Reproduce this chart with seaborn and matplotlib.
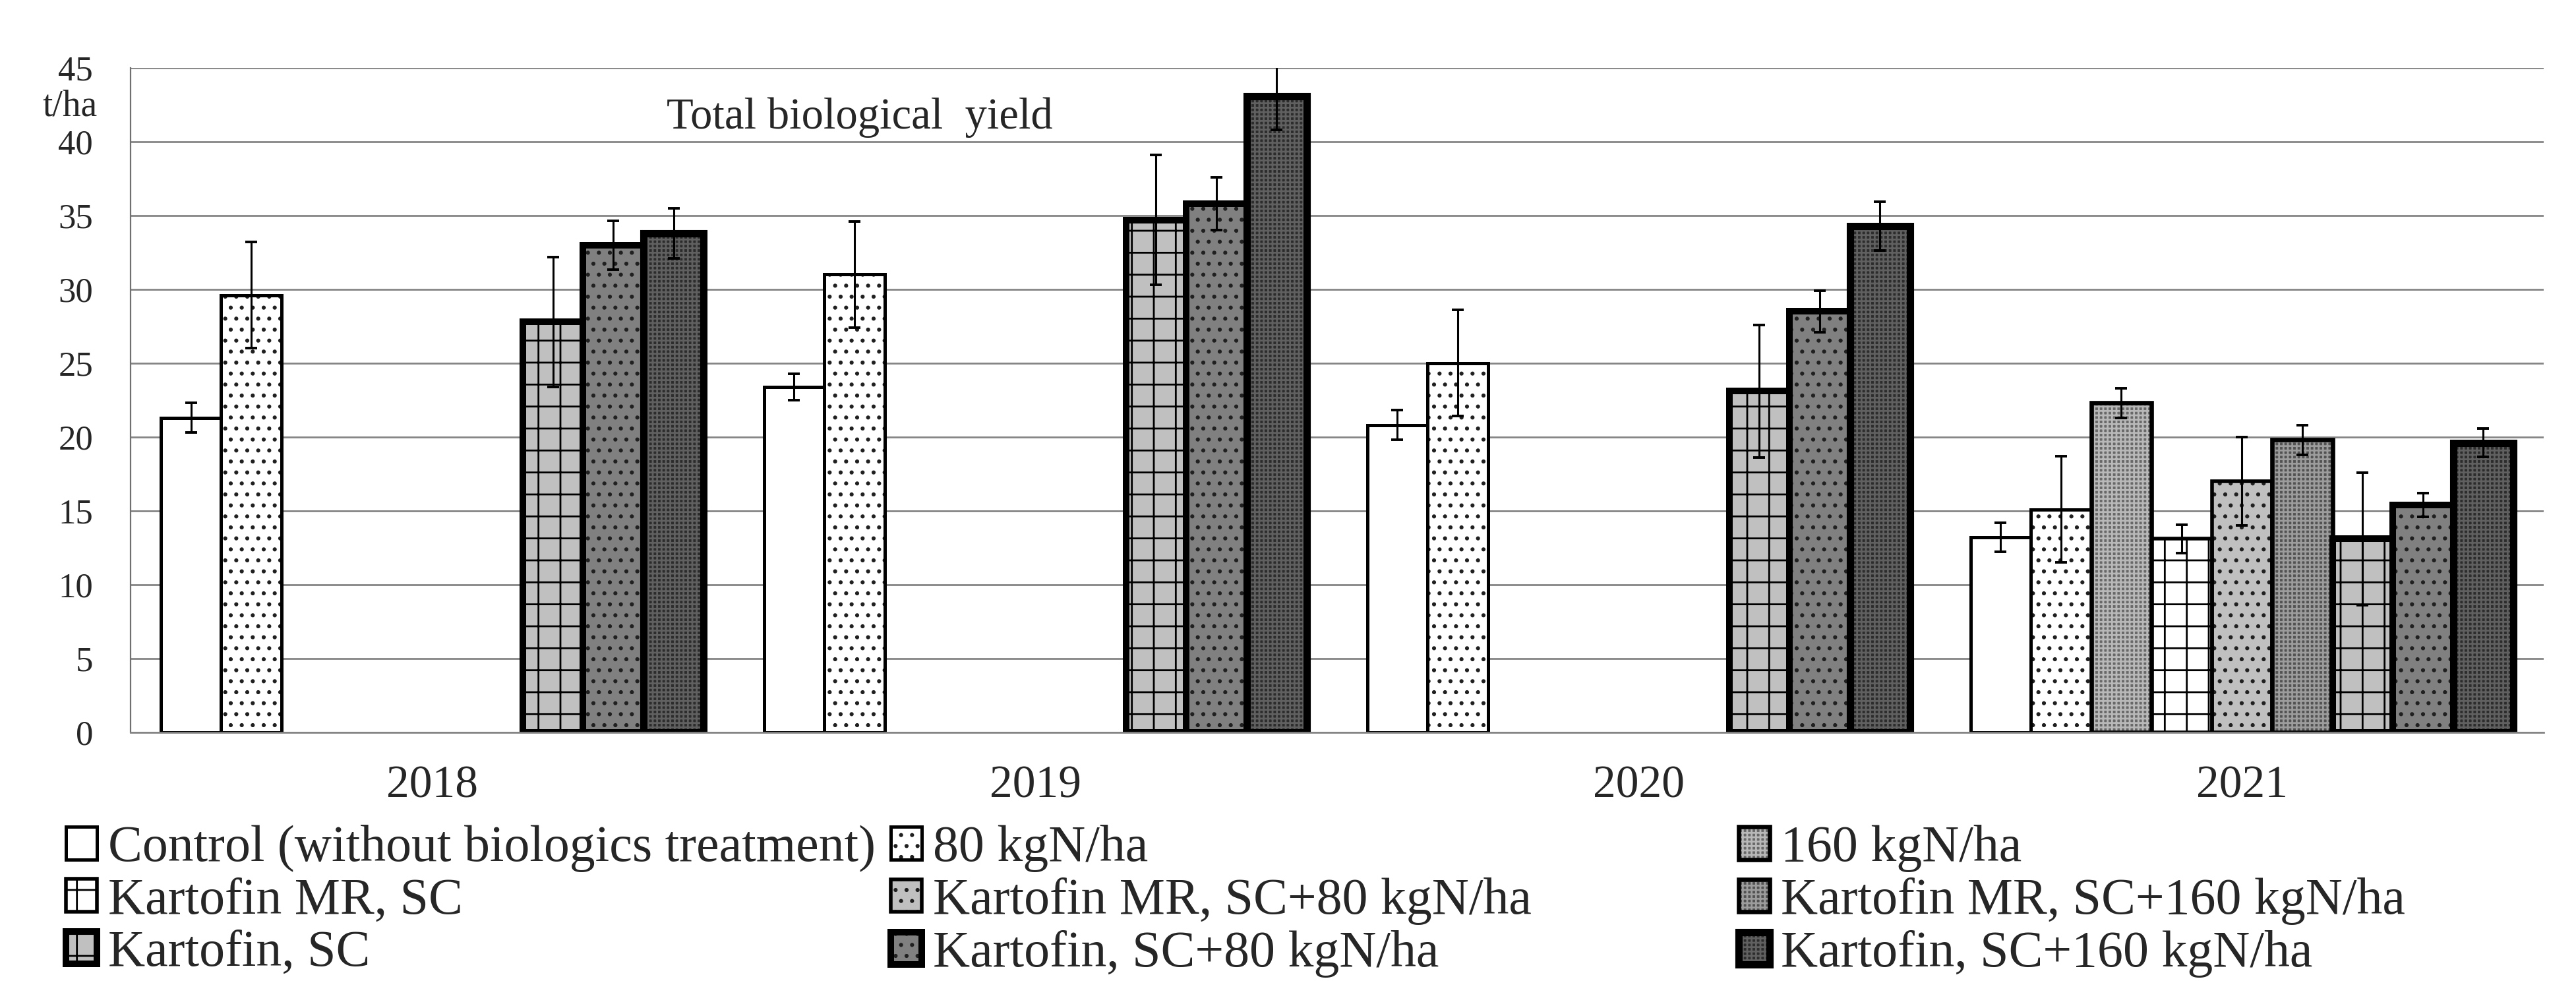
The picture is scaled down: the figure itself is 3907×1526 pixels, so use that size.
import numpy as np
import pandas as pd
import seaborn as sns
import matplotlib.pyplot as plt
import matplotlib.patches as mpatches
from matplotlib.legend_handler import HandlerTuple

years = ['2018', '2019', '2020', '2021']
series = ['Control (without biologics treatment)', '80 kgN/ha', '160 kgN/ha',
          'Kartofin MR, SC', 'Kartofin MR, SC+80 kgN/ha', 'Kartofin MR, SC+160 kgN/ha',
          'Kartofin, SC', 'Kartofin, SC+80 kgN/ha', 'Kartofin, SC+160 kgN/ha']
nan = np.nan

# yields t/ha per series, one value per year (nan = not tested)
control = [21.3, 23.4, 20.8, 13.2]
n80 = [29.6, 31.0, 25.0, 15.1]
n160 = [nan, nan, nan, 22.3]
mr = [nan, nan, nan, 13.1]
mr80 = [nan, nan, nan, 17.0]
mr160 = [nan, nan, nan, 19.8]
kart = [27.8, 34.7, 23.1, 13.1]
kart80 = [33.0, 35.8, 28.5, 15.4]
kart160 = [33.8, 43.1, 34.3, 19.6]

# error bar half-lengths
control_err = [1.0, 0.9, 1.0, 1.0]
n80_err = [3.6, 3.6, 3.6, 3.6]
n160_err = [nan, nan, nan, 1.0]
mr_err = [nan, nan, nan, 0.95]
mr80_err = [nan, nan, nan, 3.0]
mr160_err = [nan, nan, nan, 1.0]
kart_err = [4.4, 4.4, 4.5, 4.5]
kart80_err = [1.65, 1.8, 1.4, 0.8]
kart160_err = [1.7, 2.3, 1.65, 0.95]

values = [control, n80, n160, mr, mr80, mr160, kart, kart80, kart160]
errors = [control_err, n80_err, n160_err, mr_err, mr80_err, mr160_err,
          kart_err, kart80_err, kart160_err]

# face colour, hatch, hatch colour, edge width
styles = [
    ('white', '', 'black', 1.8),
    ('white', '..', '#202020', 1.8),
    ('#686868', '+++++', '#b8b8b8', 2.4),
    ('white', '+', 'black', 2.0),
    ('#c0c0c0', '..', '#202020', 2.0),
    ('#525252', '+++++', '#9c9c9c', 2.4),
    ('#c0c0c0', '+', 'black', 3.6),
    ('#808080', '..', '#202020', 3.6),
    ('#2c2c2c', '+++++', '#606060', 4.0),
]

rows = []
for name, vals, errs in zip(series, values, errors):
    for yr, v, e in zip(years, vals, errs):
        if not np.isnan(v):
            rows.append({'year': yr, 'treatment': name, 'yield': v, 'err': e})
df = pd.DataFrame(rows)

sns.set_style('white')
plt.rcParams['font.family'] = ['Liberation Serif', 'DejaVu Serif']
plt.rcParams['hatch.linewidth'] = 1.0

fig = plt.figure(figsize=(3907 / 200, 1526 / 200), dpi=200)
ax = fig.add_axes([0.0507, 0.2722, 0.9367, 0.6603])

sns.barplot(data=df, x='year', y='yield', hue='treatment', order=years,
            hue_order=series, width=0.9, errorbar=None, legend=False, ax=ax)

xs, ys, es = [], [], []
for i, cont in enumerate(ax.containers):
    face, hatch, hcol, lw = styles[i]
    for bar in cont:
        h = bar.get_height()
        if np.isnan(h):
            continue
        bar.set_facecolor(face)
        bar.set_hatch(hatch)
        bar.set_edgecolor(hcol)
        bar.set_linewidth(0)
        outline = mpatches.Rectangle(bar.get_xy(), bar.get_width(), h, fill=False,
                                     edgecolor='black', lw=lw, zorder=bar.get_zorder() + 0.1)
        ax.add_patch(outline)
        cx = bar.get_x() + bar.get_width() / 2
        gi = int(round(cx))
        xs.append(cx)
        ys.append(values[i][gi])
        es.append(errors[i][gi])

ax.errorbar(xs, ys, yerr=es, fmt='none', ecolor='black', elinewidth=1.1,
            capsize=3.4, capthick=1.4, zorder=6)

ax.set_xlim(-0.5, 3.5)
ax.set_ylim(0, 45)
ax.set_yticks(range(0, 46, 5))
ax.set_xticks([-0.5, 0.5, 1.5, 2.5, 3.5], [''] * 5)
ax.set_xticks([0, 1, 2, 3], years, minor=True)
ax.set_xlabel('')
ax.set_ylabel('')
ax.yaxis.grid(True, color='#858585', lw=1.0)
ax.xaxis.grid(False)
ax.set_axisbelow(True)

ax.tick_params(axis='x', which='major', direction='inout', length=19, width=1.0, color='#808080')
ax.tick_params(axis='x', which='minor', length=0, pad=18, labelsize=25)
ax.tick_params(axis='y', direction='inout', length=13, width=1.0, color='#707070',
               pad=14, labelsize=19)
for s in ['top', 'right']:
    ax.spines[s].set_visible(False)
ax.spines['bottom'].set_color('#858585')
ax.spines['bottom'].set_linewidth(1.0)
ax.spines['left'].set_color('#707070')
ax.spines['left'].set_linewidth(0.8)

ax.text(-0.025, 42.4, 't/ha', transform=ax.get_yaxis_transform(), ha='center',
        va='center', fontsize=20)
ax.text(0.389, 40.9, 'Total biological  yield', ha='left', va='baseline', fontsize=24)

# legend: three columns, filled row-wise
handles = []
for face, hatch, hcol, lw in styles:
    fill = mpatches.Patch(facecolor=face, hatch=hatch, edgecolor=hcol, lw=0)
    edge = mpatches.Patch(fill=False, edgecolor='black', lw=lw)
    handles.append((fill, edge))

col_x = [0.0256, 0.3458, 0.675]
for c in range(3):
    idx = [c, c + 3, c + 6]
    fig.legend([handles[k] for k in idx], [series[k] for k in idx],
               handler_map={tuple: HandlerTuple(ndivide=1, pad=0)},
               loc='upper left', bbox_to_anchor=(col_x[c], 0.18), frameon=False,
               fontsize=28, borderpad=0, borderaxespad=0, handlelength=0.6,
               handleheight=0.6, handletextpad=0.22, labelspacing=0.1)

fig.savefig('out.png', dpi=200)
